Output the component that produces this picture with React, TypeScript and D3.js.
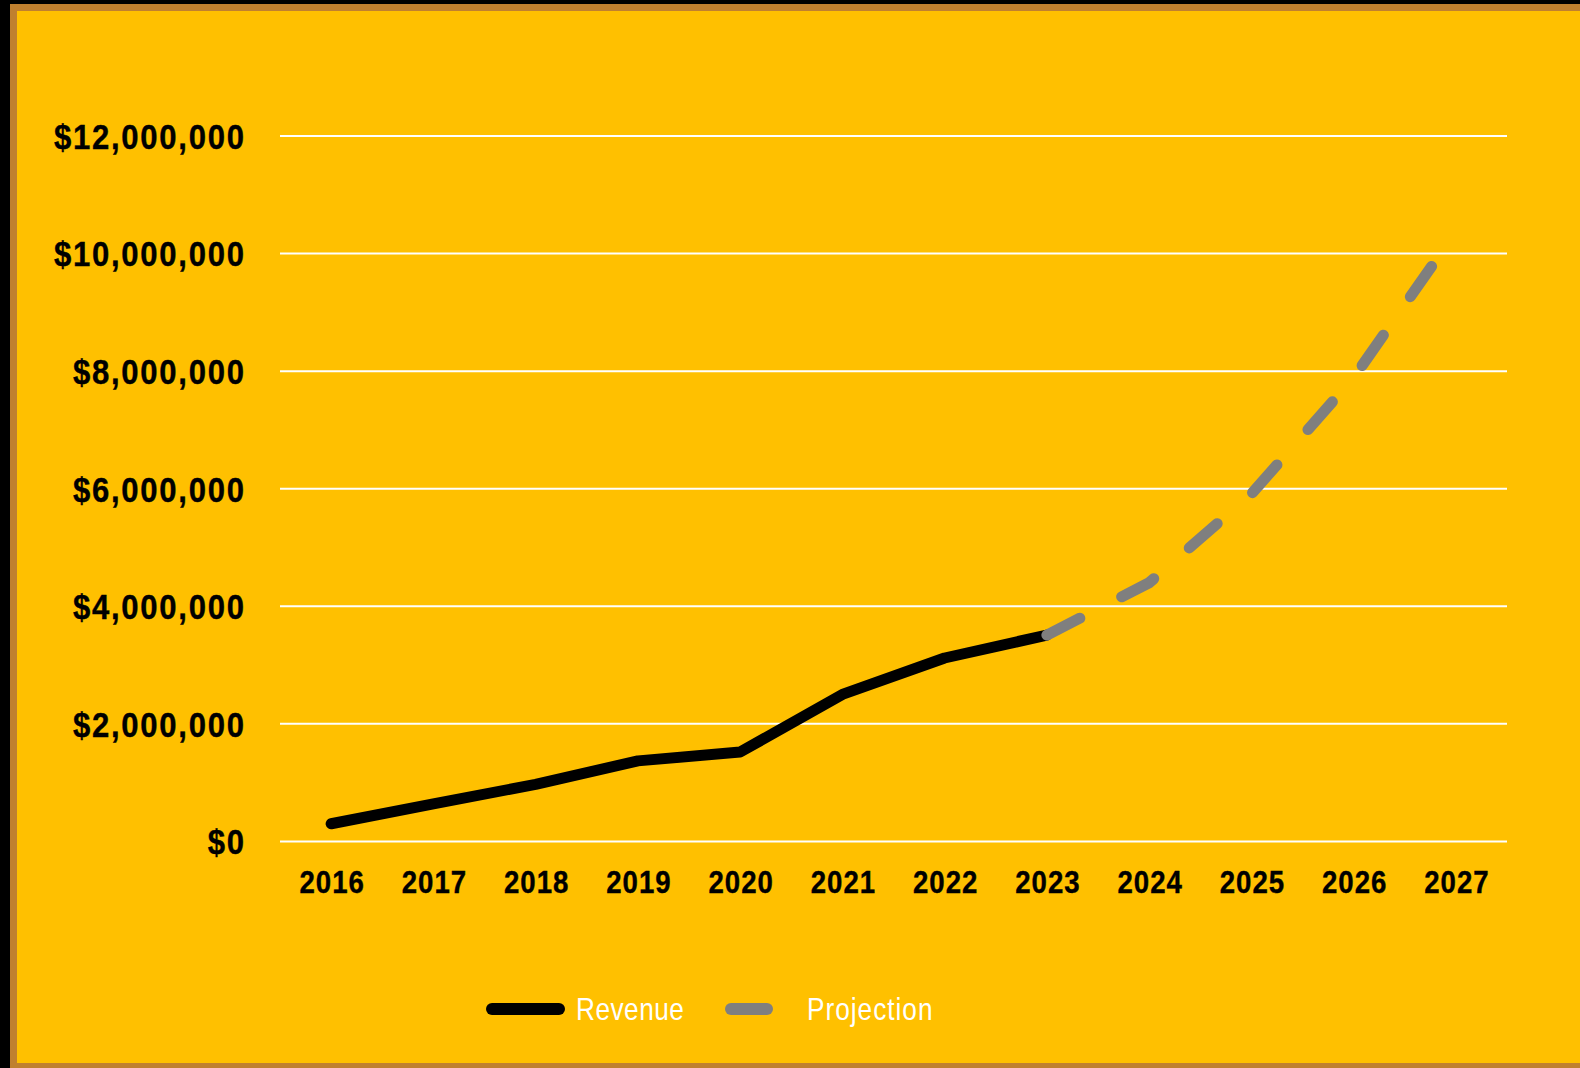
import React, { useEffect } from "react";
import * as d3 from "d3";

const years = ["2016", "2017", "2018", "2019", "2020", "2021", "2022", "2023", "2024", "2025", "2026", "2027"];
const revenueYears = ["2016", "2017", "2018", "2019", "2020", "2021", "2022", "2023"];
const revenueValues = [300000, 640000, 970000, 1370000, 1520000, 2500000, 3120000, 3510000];
const projectionYears = ["2023", "2024", "2025", "2026", "2027"];
const projectionValues = [3510000, 4400000, 5910000, 7890000, 10370000];
const yTicks = [0, 2000000, 4000000, 6000000, 8000000, 10000000, 12000000];
const legendLabels = ["Revenue", "Projection"];

const W = 1580;
const H = 1068;
const YELLOW = "#FFC000";
const BROWN = "#C0802F";
const GRAY = "#7F7F7F";
const FONT = '"Liberation Sans", Arial, sans-serif';
const SX = 0.87;
const SXL = 0.82;

export default function App() {
  useEffect(() => {
    document.body.style.margin = "0";
    document.body.style.overflow = "hidden";
  }, []);

  const x = d3.scalePoint<string>().domain(years).range([280, 1507]).padding(0.5);
  const y = d3.scaleLinear().domain([0, 12000000]).range([841.4, 136]);
  const fmt = (v: number) => "$" + d3.format(",")(v);

  const lineGen = d3
    .line<[string, number]>()
    .x((d) => x(d[0]) as number)
    .y((d) => y(d[1]));

  const revPath = lineGen(revenueYears.map((yr, i) => [yr, revenueValues[i]] as [string, number])) || "";
  const projPath = lineGen(projectionYears.map((yr, i) => [yr, projectionValues[i]] as [string, number])) || "";

  return (
    <svg
      width={W}
      height={H}
      style={{ position: "absolute", left: 0, top: 0, display: "block" }}
    >
      <rect x={0} y={0} width={W} height={H} fill="#000" />
      <rect x={10} y={4} width={W} height={H} fill={BROWN} />
      <rect x={17} y={11} width={W} height={1063 - 11} fill={YELLOW} />

      {yTicks.map((t) => (
        <g key={t}>
          <line x1={280} x2={1507} y1={y(t)} y2={y(t)} stroke="#FFFFFF" strokeWidth={2} />
          <text
            transform={`translate(${244 + 2.0 * SX},${y(t) + 12.8}) scale(${SX},1)`}
            textAnchor="end"
            fontFamily={FONT}
            fontWeight="bold"
            fontSize={35.7}
            letterSpacing={2.0}
            fill="#000"
            stroke="#000"
            strokeWidth={0.4}
          >
            {fmt(t)}
          </text>
        </g>
      ))}

      {years.map((yr) => (
        <text
          key={yr}
          transform={`translate(${(x(yr) as number) + 0.4 + 0.6},${893}) scale(${SX},1)`}
          textAnchor="middle"
          fontFamily={FONT}
          fontWeight="bold"
          fontSize={31.7}
          letterSpacing={1.2}
          fill="#000"
          stroke="#000"
          strokeWidth={0.4}
        >
          {yr}
        </text>
      ))}

      <path d={revPath} fill="none" stroke="#000" strokeWidth={11} strokeLinejoin="round" strokeLinecap="round" />
      <path
        d={projPath}
        fill="none"
        stroke={GRAY}
        strokeWidth={11}
        strokeLinejoin="round"
        strokeLinecap="round"
        strokeDasharray="37 47"
      />

      <line x1={492} x2={559} y1={1009} y2={1009} stroke="#000" strokeWidth={12} strokeLinecap="round" />
      <text
        transform={`translate(576,1020) scale(${SXL},1)`}
        fontFamily={FONT}
        fontSize={32}
        letterSpacing={0.6}
        fill="#FFFFFF"
      >
        {legendLabels[0]}
      </text>
      <line x1={731} x2={767} y1={1009} y2={1009} stroke={GRAY} strokeWidth={12} strokeLinecap="round" />
      <text
        transform={`translate(807,1020) scale(${SXL},1)`}
        fontFamily={FONT}
        fontSize={32}
        letterSpacing={1.2}
        fill="#FFFFFF"
      >
        {legendLabels[1]}
      </text>
    </svg>
  );
}
